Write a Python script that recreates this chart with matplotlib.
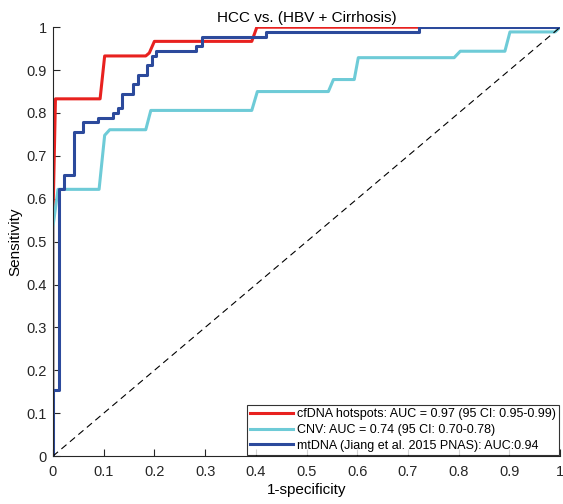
import matplotlib
matplotlib.use("Agg")
import matplotlib.pyplot as plt

plt.rcParams['font.family'] = ['Liberation Sans', 'DejaVu Sans']

# courbe cfDNA hotspots
fpr_cfdna = [0, 0, 0.005, 0.093, 0.102, 0.183, 0.19, 0.2, 0.392, 0.402, 1.0]
tpr_cfdna = [0, 0.55, 0.833, 0.833, 0.933, 0.933, 0.94, 0.967, 0.967, 1.0, 1.0]

# courbe CNV
fpr_cnv = [0, 0, 0.01, 0.091, 0.102, 0.112, 0.183, 0.193, 0.392, 0.403, 0.543, 0.553,
           0.594, 0.602, 0.791, 0.803, 0.891, 0.901, 0.99, 1.0]
tpr_cnv = [0, 0.534, 0.622, 0.622, 0.748, 0.761, 0.761, 0.806, 0.806, 0.85, 0.85, 0.878,
           0.878, 0.929, 0.929, 0.944, 0.944, 0.989, 0.989, 1.0]

# courbe mtDNA (marches)
fpr_mt = [0, 0, 0.012, 0.012, 0.022, 0.022, 0.041, 0.041, 0.059, 0.059, 0.089, 0.089,
          0.118, 0.118, 0.128, 0.128, 0.137, 0.137, 0.157, 0.157, 0.167, 0.167,
          0.185, 0.185, 0.195, 0.195, 0.204, 0.204, 0.283, 0.283, 0.293, 0.293,
          0.42, 0.42, 0.722, 0.722, 1.0]
tpr_mt = [0, 0.155, 0.155, 0.622, 0.622, 0.656, 0.656, 0.756, 0.756, 0.778, 0.778, 0.789,
          0.789, 0.8, 0.8, 0.811, 0.811, 0.844, 0.844, 0.867, 0.867, 0.889,
          0.889, 0.911, 0.911, 0.933, 0.933, 0.944, 0.944, 0.956, 0.956, 0.978,
          0.978, 0.989, 0.989, 1.0, 1.0]

labels = ["cfDNA hotspots: AUC = 0.97 (95 CI: 0.95-0.99)",
          "CNV: AUC = 0.74 (95 CI: 0.70-0.78)",
          "mtDNA (Jiang et al. 2015 PNAS): AUC:0.94"]
ticks = [0, 0.1, 0.2, 0.3, 0.4, 0.5, 0.6, 0.7, 0.8, 0.9, 1]
tick_labels = ["0", "0.1", "0.2", "0.3", "0.4", "0.5", "0.6", "0.7", "0.8", "0.9", "1"]

fig = plt.figure(figsize=(5.63, 5.04), dpi=100)
ax = fig.add_axes([0.094, 0.095, 0.901, 0.851])

ax.plot(fpr_cfdna, tpr_cfdna, color='#e8211f', lw=2.2, label=labels[0])
ax.plot(fpr_cnv, tpr_cnv, color='#6ecbd7', lw=2.2, label=labels[1])
ax.plot(fpr_mt, tpr_mt, color='#2c4a9c', lw=2.2, label=labels[2])
ax.plot([0, 1], [0, 1], color='black', lw=0.8, ls=(0, (6, 4)))

ax.set_xlim(0, 1)
ax.set_ylim(0, 1)
ax.set_xticks(ticks)
ax.set_xticklabels(tick_labels)
ax.set_yticks(ticks)
ax.set_yticklabels(tick_labels)
ax.tick_params(direction='in', length=5, labelsize=10.5, colors='#262626')
ax.tick_params(axis='x', pad=6.5)
ax.tick_params(axis='y', pad=4.5)
ax.spines['top'].set_visible(False)
ax.spines['right'].set_visible(False)
for s in ['left', 'bottom']:
    ax.spines[s].set_color('#262626')
    ax.spines[s].set_linewidth(0.8)

ax.set_xlabel("1-specificity", fontsize=11, labelpad=3)
ax.set_ylabel("Sensitivity", fontsize=11, labelpad=3)
ax.set_title("HCC vs. (HBV + Cirrhosis)", fontsize=11, pad=4)

leg = ax.legend(loc='lower right', fontsize=9, frameon=True, fancybox=False,
                edgecolor='black', borderpad=0.25, handlelength=3.4,
                labelspacing=0.3, handletextpad=0.35, borderaxespad=0.1)
leg.get_frame().set_linewidth(0.8)

plt.savefig("out.png", dpi=100)
